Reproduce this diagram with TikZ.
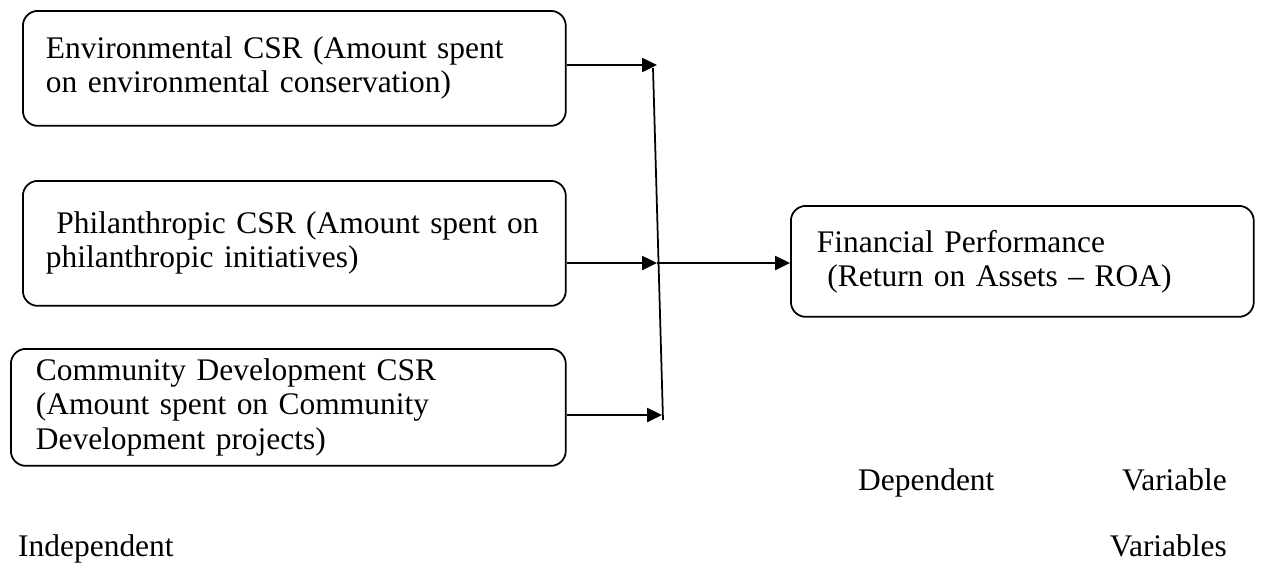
\documentclass[tikz,border=0pt]{standalone}
\usepackage{fontspec}
\setmainfont{Liberation Serif}
\usepackage{tikz}
\usetikzlibrary{positioning, arrows.meta, calc}
\tikzset{varbox/.style = {draw=black, line width=1pt, rounded corners=0.3cm, align=left,
                          inner xsep=0.46cm, anchor=north west, minimum height=2.3cm},
         arr/.style = {line width=1.4pt, -{Triangle[length=0.3cm, width=0.28cm]}}}

\begin{document}
\begin{tikzpicture}[x=0.02cm, y=-0.02cm, font=\fontsize{17.9}{19.4}\selectfont]
        \useasboundingbox (0,0) rectangle (1266,572);

        % independent variables
        \node [varbox, text width=9.94cm] (env) at (22,10)
            {Environmental CSR (Amount spent\\on environmental conservation)};
        \node [varbox, text width=9.94cm, minimum height=2.5cm] (phil) at (22,180)
            {\ Philanthropic CSR (Amount spent on\\philanthropic initiatives)};
        \node [varbox, text width=10.1cm, inner xsep=0.5cm, minimum height=2.34cm] (comm) at (10,348)
            {Community Development CSR\\(Amount spent on Community\\Development projects)};

        % dependent variable
        \node [varbox, text width=8.22cm, inner xsep=0.52cm, minimum height=2.22cm] (fin) at (790,205)
            {Financial Performance\\\ (Return on Assets -- ROA)};

        \coordinate (j1) at (657,65);
        \coordinate (j2) at (657,263);
        \coordinate (j3) at (662,415);
        \coordinate (vtop) at (653,68);
        \coordinate (vbot) at (663,420);

        \draw [line width=1pt] (vtop) -- (vbot);
        \draw [arr] (env.east |- j1) -- (j1);
        \draw [arr] (phil.east |- j2) -- (j2);
        \draw [arr] (comm.east |- j3) -- (j3);
        \draw [arr] (j2) -- (fin.west |- j2);

        \node [anchor=base west] (dep) at (852,490) {Dependent};
        \node [anchor=base east] (depv) at (1233,490) {Variable};
        \node [anchor=base west] (ind) at (12,556) {Independent};
        \node [anchor=base east] (indv) at (1233,556) {Variables};
    \end{tikzpicture}
\end{document}
